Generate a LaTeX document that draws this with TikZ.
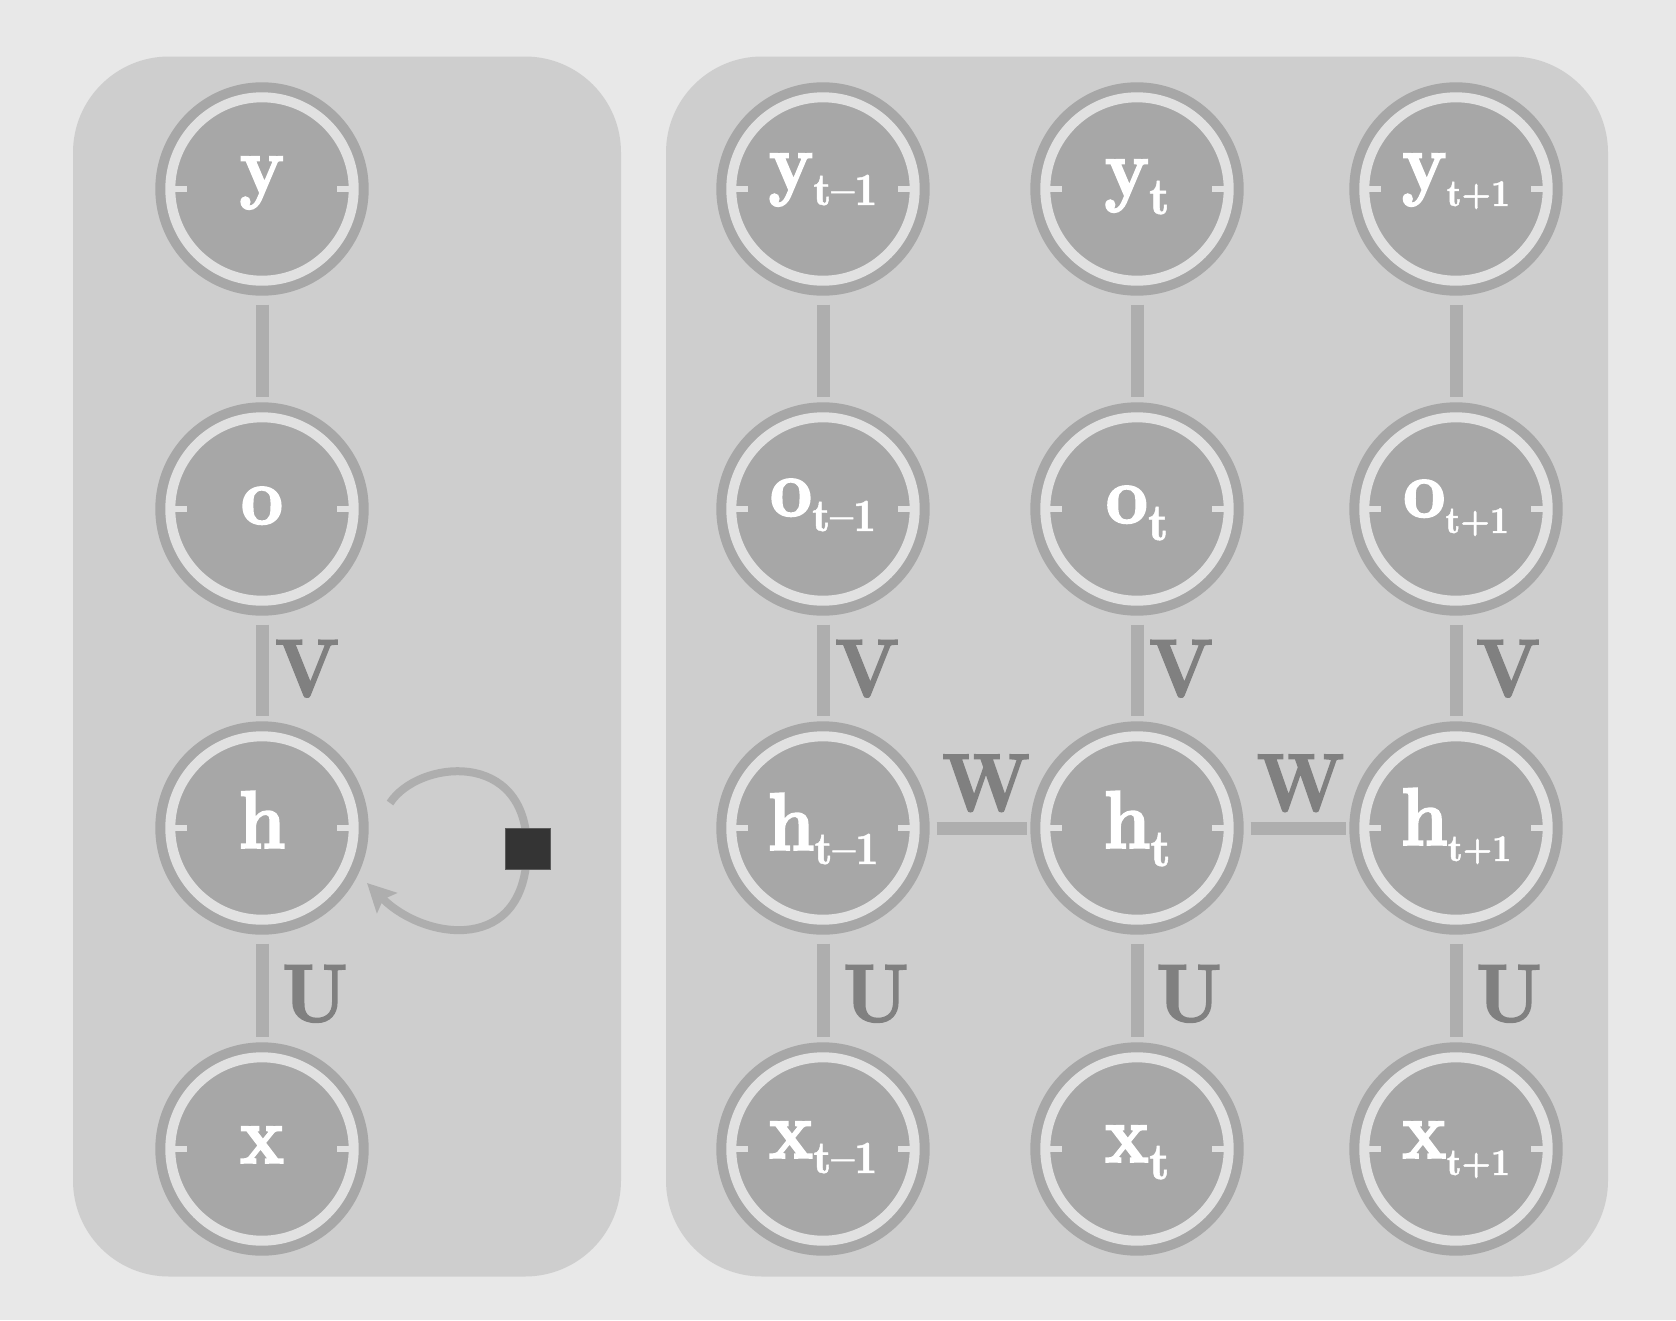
\documentclass[tikz,border=0pt]{standalone}
\usepackage{fontspec}
\usetikzlibrary{arrows.meta}
\newfontfamily\labbf{lmroman10-bold.otf}[FakeStretch=0.9, FakeBold=2]
\newfontfamily\labrm{lmromandemi10-regular.otf}[FakeBold=1]
\definecolor{bgc}{HTML}{E8E8E8}
\definecolor{panelc}{HTML}{CECECE}
\definecolor{nodec}{HTML}{A7A7A7}
\definecolor{ringc}{HTML}{E1E1E1}
\definecolor{edgec}{HTML}{AEAEAE}
\definecolor{lblc}{HTML}{808080}
\definecolor{sqcol}{HTML}{343434}
\definecolor{sqedge}{HTML}{5C5C5C}
\newcommand\mn[1]{{\labbf\fontsize{82}{90}\selectfont #1}}
\newcommand\lsub[3]{\raisebox{-#2pt}{\labrm\fontsize{#1}{#1}\selectfont #3}}
\begin{document}
\begin{tikzpicture}[x=1pt,y=-1pt,
  rnn/.style={circle, minimum size=183.4pt, inner sep=0pt, outer sep=15pt,
    fill=nodec, draw=nodec, line width=10pt, double=ringc, double distance=10pt,
    text=white, text depth=0pt},
  bl/.style={text height=#1pt},
  tickl/.style={draw=ringc, line width=6.5pt},
  conn/.style={draw=edgec, line width=13pt, shorten <=9pt, shorten >=5pt},
  hconn/.style={draw=edgec, line width=13pt, shorten <=7pt, shorten >=3pt},
  lbl/.style={text=lblc, font=\labbf\fontsize{82}{90}\selectfont, inner sep=0pt,
    text height=56pt, text depth=0pt},
  loopl/.style={draw=edgec, line width=8pt,
    -{Stealth[length=28pt, width=28pt, inset=5pt]}},
  sqbox/.style={fill=sqcol, draw=sqedge, line width=1pt,
    minimum width=44.3pt, minimum height=41pt, inner sep=0pt}
]
\useasboundingbox (0,0) rectangle (1676,1320);
\fill[bgc] (0,0) rectangle (1676,1320);
\fill[panelc, rounded corners=96pt] (73,56.5) rectangle (621,1276.5);
\fill[panelc, rounded corners=96pt] (666,56.5) rectangle (1608,1276.5);

% left (folded) network
\node[rnn, bl=8]  (yL) at (262,189)  {\mn{y}};
\node[rnn, bl=30] (oL) at (262,509)  {\mn{o}};
\node[rnn, bl=40] (hL) at (262,828)  {\mn{h}};
\node[rnn, bl=28] (xL) at (262,1149) {\mn{x}};

% unfolded network
\node[rnn, bl=2]  (yA) at (823,189)  {\mn{y}\lsub{46}{15}{t–1}};
\node[rnn, bl=14] (yB) at (1137,189) {\mn{y}\lsub{52}{18}{t}};
\node[rnn, bl=2]  (yC) at (1456,189) {\mn{y}\lsub{38}{16}{t+1}};
\node[rnn, bl=14] (oA) at (823,509)  {\mn{o}\lsub{46}{15}{t–1}};
\node[rnn, bl=28] (oB) at (1137,509) {\mn{o}\lsub{52}{17}{t}};
\node[rnn, bl=16] (oC) at (1456,509) {\mn{o}\lsub{38}{16}{t+1}};
\node[rnn, bl=44] (hA) at (823,828)  {\mn{h}\lsub{46}{14}{t–1}};
\node[rnn, bl=40] (hB) at (1137,828) {\mn{h}\lsub{52}{18}{t}};
\node[rnn, bl=34] (hC) at (1456,828) {\mn{h}\lsub{38}{16}{t+1}};
\node[rnn, bl=18] (xA) at (823,1149)  {\mn{x}\lsub{46}{15}{t–1}};
\node[rnn, bl=26] (xB) at (1137,1149) {\mn{x}\lsub{52}{17}{t}};
\node[rnn, bl=18] (xC) at (1456,1149) {\mn{x}\lsub{38}{17}{t+1}};

% side ticks of every unit
\foreach \n in {yL,oL,hL,xL,yA,yB,yC,oA,oB,oC,hA,hB,hC,xA,xB,xC}{
  \draw[tickl] ([xshift=-96pt]\n.center) -- ([xshift=-75pt]\n.center);
  \draw[tickl] ([xshift=75pt]\n.center) -- ([xshift=96pt]\n.center);
}

% connectors, left
\draw[conn] (yL) -- (oL);
\draw[conn] (oL) -- node[lbl, xshift=45pt] (vL) {V} (hL);
\draw[conn] (hL) -- node[lbl, xshift=53pt, yshift=-5pt] (uL) {U} (xL);

% connectors, right
\draw[conn] (yA) -- (oA);
\draw[conn] (yB) -- (oB);
\draw[conn] (yC) -- (oC);
\draw[conn] (oA) -- node[lbl, xshift=44pt] (vA) {V} (hA);
\draw[conn] (oB) -- node[lbl, xshift=44pt] (vB) {V} (hB);
\draw[conn] (oC) -- node[lbl, xshift=52pt] (vC) {V} (hC);
\draw[conn] (hA) -- node[lbl, xshift=53pt, yshift=-5pt] (uA) {U} (xA);
\draw[conn] (hB) -- node[lbl, xshift=52pt, yshift=-5pt] (uB) {U} (xB);
\draw[conn] (hC) -- node[lbl, xshift=53pt, yshift=-5pt] (uC) {U} (xC);
\draw[hconn] (hA) -- node[lbl, xshift=6pt, yshift=45pt] (wA) {W} (hB);
\draw[hconn] (hB) -- node[lbl, xshift=4pt, yshift=45pt] (wB) {W} (hC);

% self loop with delay square
\coordinate (la) at ([shift={(128,-25)}]hL.center);
\coordinate (lb) at ([shift={(105,55)}]hL.center);
\coordinate (sqc) at (527,848.5);
\draw[loopl] (la) .. controls (418,760) and (527,748) .. (sqc)
  .. controls (527,955) and (425,941) .. (lb);
\node[sqbox] (sq) at (528,848.5) {};
\end{tikzpicture}
\end{document}
